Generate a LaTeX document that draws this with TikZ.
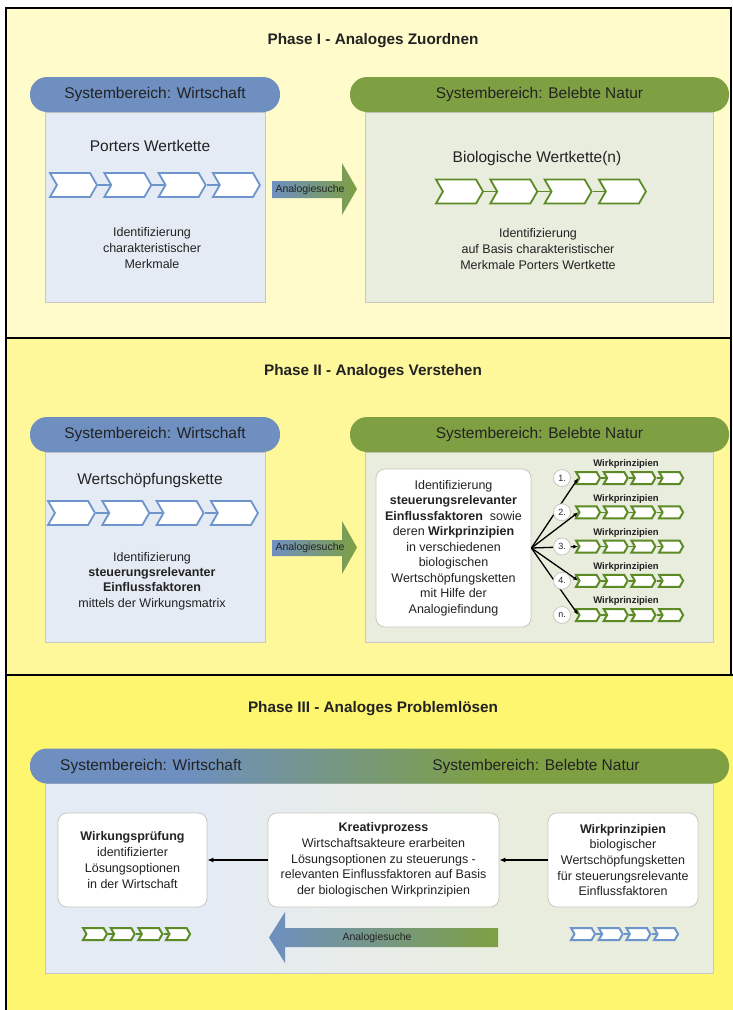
\documentclass[tikz,border=0pt]{standalone}
\usepackage{fontspec}
\setmainfont{Liberation Sans}
\usetikzlibrary{shapes.symbols,arrows.meta}
\definecolor{pI}{RGB}{255,251,202}
\definecolor{pII}{RGB}{255,248,154}
\definecolor{pIII}{RGB}{255,246,112}
\definecolor{blueH}{RGB}{110,143,192}
\definecolor{greenH}{RGB}{126,160,67}
\definecolor{blueB}{RGB}{229,235,245}
\definecolor{greenB}{RGB}{233,237,222}
\definecolor{chevBlue}{RGB}{109,149,203}
\definecolor{chevGreen}{RGB}{92,138,36}
\definecolor{edgeGrey}{RGB}{200,200,192}
\definecolor{txt}{RGB}{34,34,34}
\pgfdeclarehorizontalshading{hdrshade}{100bp}{color(0bp)=(blueH); color(36bp)=(blueH); color(58bp)=(greenH); color(100bp)=(greenH)}
\pgfdeclarehorizontalshading{bodyshade}{100bp}{color(0bp)=(blueB); color(36bp)=(blueB); color(60bp)=(greenB); color(100bp)=(greenB)}
\tikzset{
  paneledge/.style={draw=black, line width=2.5},
  phasetitle/.style={font=\fontsize{15.3}{18}\selectfont\bfseries, text=txt},
  hdr/.style={rounded corners=17, minimum height=35, inner sep=0, font=\fontsize{15.5}{18}\selectfont, text=txt},
  hdrtext/.style={font=\fontsize{15.5}{18}\selectfont, text=txt, inner sep=0},
  bodybox/.style={draw=edgeGrey, line width=0.8, inner sep=0},
  bigtext/.style={font=\fontsize{15.5}{18}\selectfont, text=txt},
  smalltext/.style={font=\fontsize{12.5}{16}\selectfont, text=txt, align=center},
  wbox/.style={draw=edgeGrey, fill=white, rounded corners=9, line width=0.8, inner sep=2, align=center, font=\fontsize{12.5}{15.7}\selectfont, text=txt},
  chev/.style={signal, signal to=east, signal from=west, signal pointer angle=120, fill=white, inner sep=0},
  chevB/.style={chev, draw=chevBlue, line width=1.8, minimum width=47, minimum height=24},
  chevG/.style={chev, draw=chevGreen, line width=1.8, minimum width=47, minimum height=24},
  chevBs/.style={chev, draw=chevBlue, line width=2, minimum width=24, minimum height=12},
  chevGs/.style={chev, draw=chevGreen, line width=2, minimum width=24, minimum height=12},
  arrtext/.style={font=\fontsize{10.5}{12}\selectfont, text=txt, inner sep=0},
  conn/.style={-{Latex[length=6pt,width=5pt]}, line width=1.4, draw=black},
  fan/.style={-{Latex[length=5pt,width=4pt]}, line width=1.3, draw=black},
  numc/.style={circle, draw=edgeGrey, fill=white, line width=0.8, minimum size=17, inner sep=0, font=\fontsize{9}{10}\selectfont, text=txt},
  wplabel/.style={font=\fontsize{9.5}{10}\selectfont\bfseries, text=txt, inner sep=0}
}
\newcommand\chevrow[6]{%
  \foreach \i in {1,...,4}{\node[#4] (#1\i) at ({#2+(\i-1)*#5},#3) {};}
  \foreach \i/\j in {1/2,2/3,3/4}{\draw[draw=#6, line width=1.5] (#1\i.east) -- (#1\j.west);}
}
\begin{document}
\begin{tikzpicture}[x=1pt,y=-1pt]
\useasboundingbox (0,0) rectangle (732,1010);
\fill[white] (0,0) rectangle (732,1010);
% panels
\fill[pI] (6,8) rectangle (731,338);
\fill[pII] (6,338) rectangle (731,675);
\fill[pIII] (6,675) rectangle (735,1015);
\draw[paneledge] (6,1015) -- (6,8) -- (731,8) -- (731,675);
\draw[paneledge] (6,338) -- (731,338);
\draw[paneledge] (6,675) -- (735,675);

% ================= Phase I =================
\node[phasetitle] (t1) at (373,41) {Phase I - Analoges Zuordnen};
\node[bodybox, fill=blueB, minimum width=220, minimum height=190] (b1l) at (155,207) {};
\node[hdr, fill=blueH, minimum width=250] (h1l) at (155,94.5) {Systembereich: Wirtschaft};
\node[bigtext] (p1) at (150,146) {Porters Wertkette};
\chevrow{ca}{73.5}{185}{chevB}{54.3}{chevBlue}
\node[smalltext] (i1) at (152,248) {Identifizierung\\charakteristischer\\Merkmale};

\node[bodybox, fill=greenB, minimum width=348, minimum height=190] (b1r) at (539,207) {};
\node[hdr, fill=greenH, minimum width=379] (h1r) at (539.5,94.5) {Systembereich: Belebte Natur};
\node[bigtext] (bw) at (537,158) {Biologische Wertkette(n)};
\chevrow{cb}{459.5}{191.5}{chevG}{54.3}{chevGreen}
\node[smalltext] (i2) at (538,249) {Identifizierung\\auf Basis charakteristischer\\Merkmale Porters Wertkette};

\path[left color=blueH, right color=greenH] (272,181) -- (342,181) -- (342,163) -- (357,189) -- (342,215) -- (342,198) -- (272,198) -- cycle;
\node[arrtext] (a1) at (310,189.5) {Analogiesuche};

% ================= Phase II =================
\node[phasetitle] (t2) at (373,372) {Phase II - Analoges Verstehen};
\node[bodybox, fill=blueB, minimum width=220, minimum height=190] (b2l) at (155,547) {};
\node[hdr, fill=blueH, minimum width=250] (h2l) at (155,434.5) {Systembereich: Wirtschaft};
\node[bigtext] (ws) at (150,480) {Wertschöpfungskette};
\chevrow{cc}{71.5}{513}{chevB}{54.3}{chevBlue}
\node[smalltext, font=\fontsize{12.5}{15.3}\selectfont] (i3) at (152,581) {Identifizierung\\\textbf{steuerungsrelevanter}\\\textbf{Einflussfaktoren}\\mittels der Wirkungsmatrix};

\node[bodybox, fill=greenB, minimum width=348, minimum height=190] (b2r) at (539,547) {};
\node[hdr, fill=greenH, minimum width=379] (h2r) at (539.5,434.5) {Systembereich: Belebte Natur};
\node[wbox, font=\fontsize{12.5}{15.5}\selectfont, minimum width=155, minimum height=158] (ident) at (453.5,548) {Identifizierung\\\textbf{steuerungsrelevanter}\\\textbf{Einflussfaktoren}\ \ sowie\\deren \textbf{Wirkprinzipien}\\in verschiedenen\\biologischen\\Wertschöpfungsketten\\mit Hilfe der\\Analogiefindung};

\chevrow{r1c}{588}{478}{chevGs}{27.7}{chevGreen}
\chevrow{r2c}{588}{512.25}{chevGs}{27.7}{chevGreen}
\chevrow{r3c}{588}{546.5}{chevGs}{27.7}{chevGreen}
\chevrow{r4c}{588}{580.75}{chevGs}{27.7}{chevGreen}
\chevrow{r5c}{588}{615}{chevGs}{27.7}{chevGreen}
\node[wplabel] (w1) at (626,464.5) {Wirkprinzipien};
\node[wplabel] (w2) at (626,498.75) {Wirkprinzipien};
\node[wplabel] (w3) at (626,533) {Wirkprinzipien};
\node[wplabel] (w4) at (626,567.25) {Wirkprinzipien};
\node[wplabel] (w5) at (626,601.5) {Wirkprinzipien};
\draw[fan] (ident.east) -- (r1c1.west);
\draw[fan] (ident.east) -- (r2c1.west);
\draw[fan] (ident.east) -- (r3c1.west);
\draw[fan] (ident.east) -- (r4c1.west);
\draw[fan] (ident.east) -- (r5c1.west);
\node[numc] (n1) at (562,478) {1.};
\node[numc] (n2) at (562,512.25) {2.};
\node[numc] (n3) at (562,546.5) {3.};
\node[numc] (n4) at (562,580.75) {4.};
\node[numc] (n5) at (562,615) {n.};

\path[left color=blueH, right color=greenH] (272,540) -- (342,540) -- (342,521) -- (357,547.5) -- (342,574) -- (342,556) -- (272,556) -- cycle;
\node[arrtext] (a2) at (310,548) {Analogiesuche};

% ================= Phase III =================
\node[phasetitle] (t3) at (373,709) {Phase III - Analoges Problemlösen};
\node[bodybox, shading=bodyshade, minimum width=668, minimum height=190] (b3) at (379,878) {};
\node[hdr, shading=hdrshade, minimum width=699] (h3) at (379.5,766) {};
\node[hdrtext, anchor=west] (h3l) at (60,766) {Systembereich: Wirtschaft};
\node[hdrtext] (h3r) at (536,766) {Systembereich: Belebte Natur};

\node[wbox, minimum width=149, minimum height=94] (wp) at (132.5,860) {\textbf{Wirkungsprüfung}\\identifizierter\\Lösungsoptionen\\in der Wirtschaft};
\node[wbox, minimum width=231, minimum height=94] (kp) at (383.5,860) {\textbf{Kreativprozess}\\Wirtschaftsakteure erarbeiten\\Lösungsoptionen zu steuerungs -\\relevanten Einflussfaktoren auf Basis\\der biologischen Wirkprinzipien};
\node[wbox, minimum width=150, minimum height=94] (wpr) at (623,860) {\textbf{Wirkprinzipien}\\biologischer\\Wertschöpfungsketten\\für steuerungsrelevante\\Einflussfaktoren};
\draw[conn] (wpr.west) -- (kp.east);
\draw[conn] (kp.west) -- (wp.east);

\chevrow{gs}{95}{934}{chevGs}{27.7}{chevGreen}
\chevrow{bs}{583}{934}{chevBs}{27.7}{chevBlue}

\path[left color=blueH, right color=greenH] (269,937.5) -- (285,912) -- (285,928) -- (498,928) -- (498,947) -- (285,947) -- (285,963) -- cycle;
\node[arrtext] (a3) at (377,938) {Analogiesuche};
\end{tikzpicture}
\end{document}
